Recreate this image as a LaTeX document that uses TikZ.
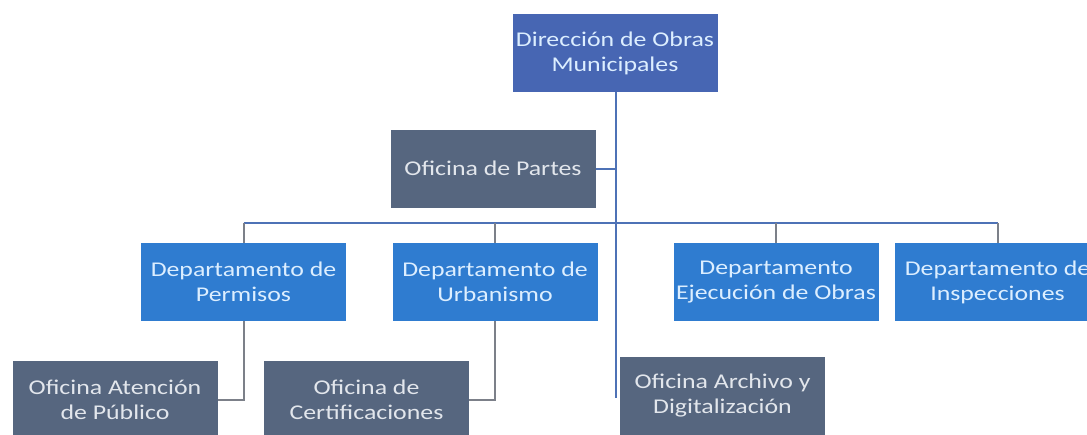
\documentclass[tikz,border=0pt]{standalone}
\usepackage{fontspec}
\setmainfont[FakeStretch=1.23]{Carlito}
\definecolor{topblue}{HTML}{4766B3}
\definecolor{deptblue}{HTML}{2F7CD0}
\definecolor{offgray}{HTML}{56667F}
\definecolor{mainline}{HTML}{4E72B6}
\definecolor{grayline}{HTML}{7C8089}
\definecolor{txtblue}{HTML}{DCEEFF}
\definecolor{txtgray}{HTML}{E2E6EC}
\begin{document}
\begin{tikzpicture}[x=1pt,y=-1pt,
  box/.style={rectangle,inner sep=0pt,minimum width=205pt,minimum height=78pt,align=center,font=\fontsize{21}{25}\selectfont},
  topbox/.style={box,fill=topblue,text=txtblue},
  deptbox/.style={box,fill=deptblue,text=txtblue},
  offbox/.style={box,fill=offgray,text=txtgray},
  mline/.style={draw=mainline,line width=2pt},
  gline/.style={draw=grayline,line width=2pt}]
\useasboundingbox (0,0) rectangle (1087,434);
\node[topbox] (top) at (615,53) {Dirección de Obras\\Municipales};
\node[offbox] (partes) at (493,168.5) {Oficina de Partes};
\node[deptbox] (perm) at (243.5,282) {Departamento de\\Permisos};
\node[deptbox] (urb) at (495,282) {Departamento de\\Urbanismo};
\node[deptbox] (ejec) at (776,282) {Departamento\\Ejecución de Obras};
\node[deptbox] (insp) at (997.5,282) {Departamento de\\Inspecciones};
\node[offbox] (aten) at (115,400) {Oficina Atención\\de Público};
\node[offbox] (cert) at (366.5,400) {Oficina de\\Certificaciones};
\node[offbox] (arch) at (722.5,396) {Oficina Archivo y\\Digitalización};
\coordinate (mainend) at (616,398);
\coordinate (bus) at (616,223);
\draw[mline] (top.south -| mainend) -- (mainend);
\draw[mline] (partes.east) -- (partes.east -| mainend);
\draw[mline] (perm.north |- bus) -- (insp.north |- bus);
\draw[gline] (perm.north |- bus) -- (perm.north);
\draw[gline] (urb.north |- bus) -- (urb.north);
\draw[gline] (ejec.north |- bus) -- (ejec.north);
\draw[gline] (insp.north |- bus) -- (insp.north);
\draw[gline] (perm.south) |- (aten.east);
\draw[gline] (urb.south) |- (cert.east);
\end{tikzpicture}
\end{document}
